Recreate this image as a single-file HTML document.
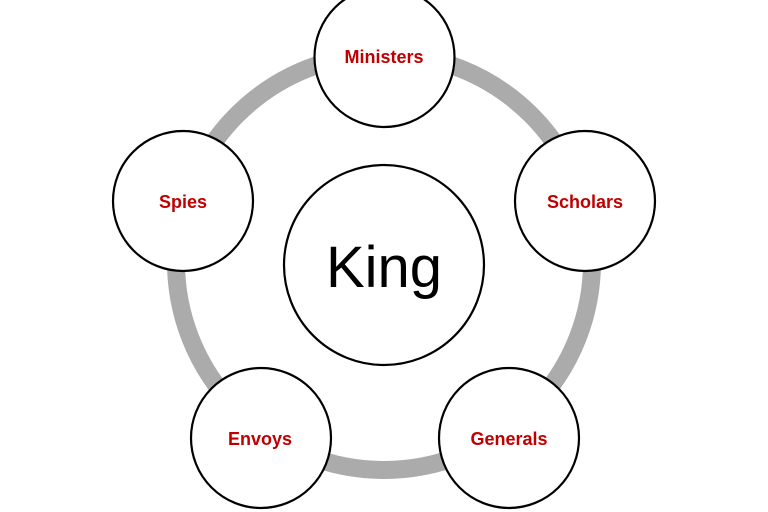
<!DOCTYPE html>
<html><head><meta charset="utf-8"><style>
html,body{margin:0;padding:0;background:#fff;}
svg{display:block;}
text{font-family:"Liberation Sans",sans-serif;}
.l{fill:#c00000;font-weight:bold;font-size:18px;text-anchor:middle;}
</style></head><body>
<svg width="768" height="512" viewBox="0 0 768 512">
<circle cx="384" cy="262" r="208" fill="none" stroke="#ababab" stroke-width="18"/>
<g fill="#fff" stroke="#000" stroke-width="2.2">
<circle cx="384" cy="265" r="100"/>
<circle cx="384.5" cy="57" r="70"/>
<circle cx="585" cy="201" r="70"/>
<circle cx="183" cy="201" r="70"/>
<circle cx="261" cy="438" r="70"/>
<circle cx="509" cy="438" r="70"/>
</g>
<text x="384" y="287" font-size="58" text-anchor="middle" fill="#000">King</text>
<text class="l" x="384" y="63">Ministers</text>
<text class="l" x="585" y="208">Scholars</text>
<text class="l" x="183" y="208">Spies</text>
<text class="l" x="260" y="445">Envoys</text>
<text class="l" x="509" y="445">Generals</text>
</svg>
</body></html>
